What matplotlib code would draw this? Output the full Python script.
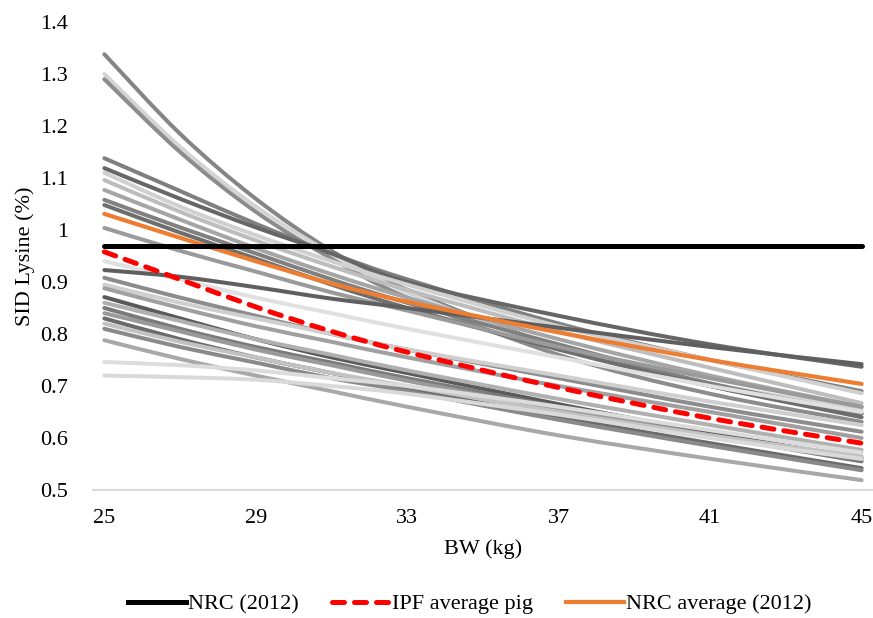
import matplotlib
matplotlib.use('Agg')
from matplotlib import pyplot as plt
from matplotlib.path import Path
from matplotlib.patches import PathPatch
from matplotlib.lines import Line2D

plt.rcParams['font.family'] = ['Liberation Serif', 'DejaVu Serif']

# body weight points (kg)
bw = [25, 27, 29, 31, 33, 37, 41, 45]

# individual pigs, SID lysine (%) at each bw point
pigs = [
    [1.338, 1.185, 1.060, 0.960, 0.885, 0.775, 0.700, 0.647],
    [1.300, 1.160, 1.045, 0.955, 0.880, 0.775, 0.705, 0.655],
    [1.290, 1.150, 1.035, 0.945, 0.870, 0.760, 0.685, 0.631],
    [1.138, 1.075, 1.012, 0.955, 0.905, 0.820, 0.750, 0.690],
    [1.119, 1.060, 1.005, 0.955, 0.900, 0.835, 0.780, 0.737],
    [1.110, 1.045, 0.990, 0.940, 0.895, 0.815, 0.750, 0.686],
    [1.096, 1.035, 0.980, 0.930, 0.885, 0.805, 0.735, 0.667],
    [1.077, 1.020, 0.965, 0.915, 0.870, 0.790, 0.720, 0.660],
    [1.058, 1.005, 0.955, 0.905, 0.860, 0.780, 0.705, 0.647],
    [1.048, 0.995, 0.945, 0.895, 0.850, 0.770, 0.700, 0.640],
    [1.004, 0.960, 0.920, 0.880, 0.845, 0.775, 0.715, 0.660],
    [0.940, 0.905, 0.870, 0.840, 0.810, 0.755, 0.700, 0.650],
    [0.923, 0.910, 0.890, 0.868, 0.850, 0.812, 0.775, 0.742],
    [0.908, 0.870, 0.835, 0.800, 0.770, 0.715, 0.660, 0.612],
    [0.895, 0.860, 0.830, 0.800, 0.770, 0.720, 0.670, 0.625],
    [0.888, 0.850, 0.815, 0.785, 0.755, 0.700, 0.650, 0.600],
    [0.871, 0.830, 0.790, 0.755, 0.725, 0.665, 0.610, 0.561],
    [0.860, 0.825, 0.790, 0.760, 0.730, 0.675, 0.625, 0.577],
    [0.850, 0.810, 0.775, 0.745, 0.715, 0.660, 0.605, 0.555],
    [0.840, 0.805, 0.770, 0.740, 0.710, 0.655, 0.605, 0.560],
    [0.830, 0.790, 0.755, 0.725, 0.695, 0.640, 0.590, 0.542],
    [0.820, 0.785, 0.755, 0.725, 0.700, 0.650, 0.605, 0.565],
    [0.810, 0.775, 0.745, 0.715, 0.690, 0.635, 0.585, 0.538],
    [0.788, 0.752, 0.720, 0.690, 0.660, 0.605, 0.560, 0.519],
    [0.746, 0.740, 0.730, 0.715, 0.700, 0.660, 0.615, 0.572],
    [0.720, 0.717, 0.712, 0.700, 0.685, 0.645, 0.600, 0.560],
]
pig_grays = ['#858585', '#d4d4d4', '#8c8c8c', '#7f7f7f', '#666666', '#d0d0d0',
             '#bdbdbd', '#a5a5a5', '#808080', '#6e6e6e', '#9a9a9a', '#e0e0e0',
             '#5f5f5f', '#8c8c8c', '#cfcfcf', '#a0a0a0', '#5a5a5a', '#b0b0b0',
             '#7a7a7a', '#9a9a9a', '#6a6a6a', '#c2c2c2', '#8a8a8a', '#a8a8a8',
             '#dcdcdc', '#d9d9d9']

nrc_2012 = [0.97] * len(bw)
ipf_avg = [0.958, 0.905, 0.852, 0.805, 0.765, 0.697, 0.638, 0.590]
nrc_avg = [1.031, 0.985, 0.940, 0.897, 0.862, 0.803, 0.750, 0.704]


def smooth_line(ax, x, y, **kw):
    # excel style smoothed line: bezier segments through the data points
    pts = list(zip(x, y))
    n = len(pts)
    verts = [pts[0]]
    codes = [Path.MOVETO]
    for i in range(n-1):
        p0 = pts[i-1] if i > 0 else pts[i]
        p1 = pts[i]
        p2 = pts[i+1]
        p3 = pts[i+2] if i+2 < n else pts[i+1]
        c1 = (p1[0]+(p2[0]-p0[0])/6, p1[1]+(p2[1]-p0[1])/6)
        c2 = (p2[0]-(p3[0]-p1[0])/6, p2[1]-(p3[1]-p1[1])/6)
        verts += [c1, c2, p2]
        codes += [Path.CURVE4]*3
    ax.add_patch(PathPatch(Path(verts, codes), fill=False, **kw))


fig = plt.figure(figsize=(8.73, 6.18), dpi=100)
ax = fig.add_axes([93/873, 1-490/618, 780/873, 468/618])

for vals, c in zip(pigs, pig_grays):
    smooth_line(ax, bw, vals, edgecolor=c, lw=2.9, capstyle='round', joinstyle='round')

smooth_line(ax, bw, nrc_avg, edgecolor='#ed7d31', lw=3.0, capstyle='round')
smooth_line(ax, bw, ipf_avg, edgecolor='#ff0000', lw=3.6, ls=(0, (2.4, 2.0)), capstyle='round')
ax.plot(bw, nrc_2012, color='black', lw=3.6, solid_capstyle='round')

ax.set_xlim(24.7, 45.3)
ax.set_ylim(0.5, 1.4)
ax.set_xticks([25, 29, 33, 37, 41, 45])
ax.set_yticks([0.5, 0.6, 0.7, 0.8, 0.9, 1.0, 1.1, 1.2, 1.3, 1.4])
ax.set_yticklabels(['0.5', '0.6', '0.7', '0.8', '0.9', '1', '1.1', '1.2', '1.3', '1.4'])
ax.tick_params(axis='both', length=0, labelsize=16)
ax.tick_params(axis='y', pad=18)
ax.tick_params(axis='x', pad=14)
for s in ['top', 'right', 'left']:
    ax.spines[s].set_visible(False)
ax.spines['bottom'].set_color('#d9d9d9')
ax.spines['bottom'].set_linewidth(1.5)

ax.set_xlabel('BW (kg)', fontsize=16, labelpad=8)
ax.set_ylabel('SID Lysine (%)', fontsize=16, labelpad=4)

handles = [Line2D([], [], color='black', lw=3.6),
           Line2D([], [], color='#ff0000', lw=3.6, ls=(0, (2.4, 2.0)), dash_capstyle='round'),
           Line2D([], [], color='#ed7d31', lw=3.0)]
labels = ['NRC (2012)', 'IPF average pig', 'NRC average (2012)']
fig.legend(handles, labels, loc='center', bbox_to_anchor=(470/873, 1-604/618), ncol=3,
           frameon=False, fontsize=16, handlelength=2.6, handletextpad=0.1, columnspacing=1.5)

fig.savefig('out.png', dpi=100)
